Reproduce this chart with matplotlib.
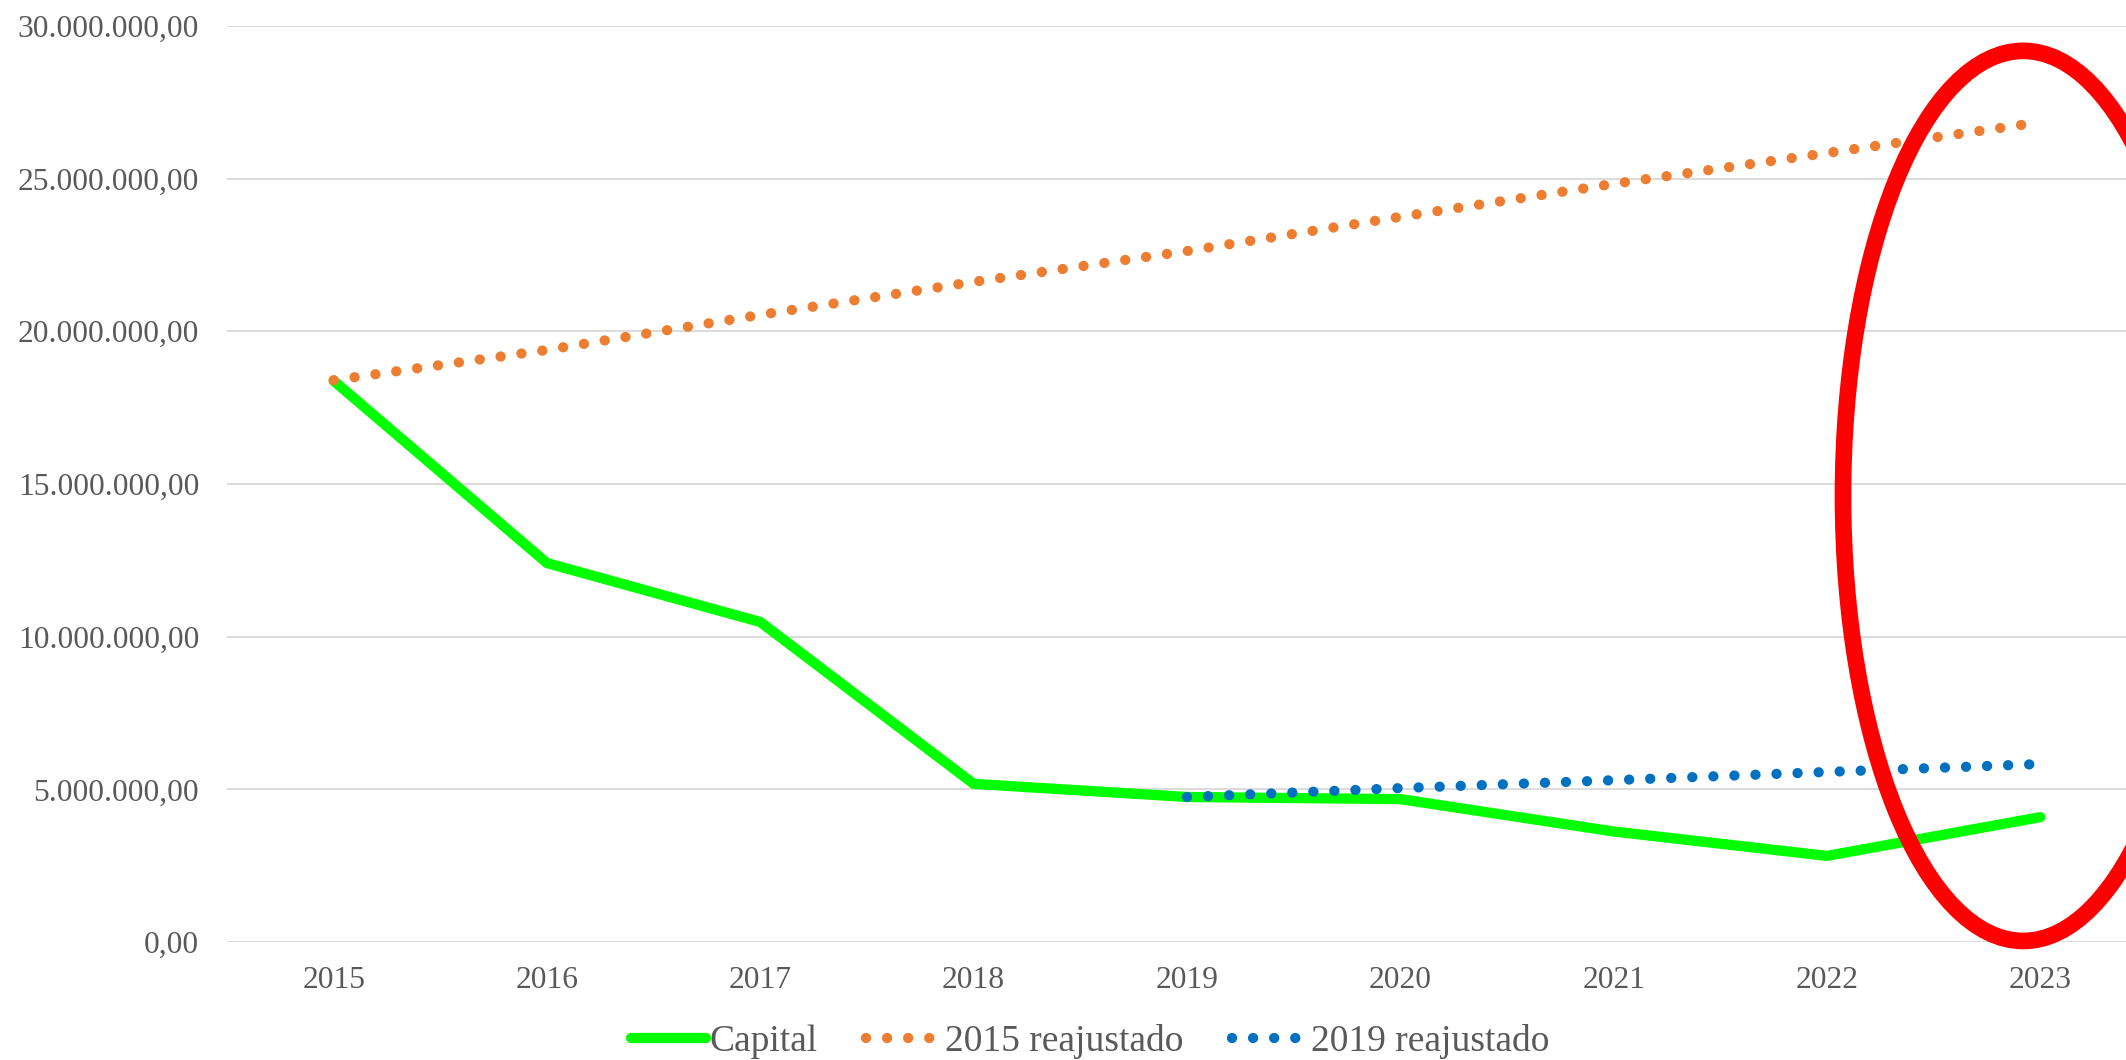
import matplotlib
matplotlib.use("Agg")
import matplotlib.pyplot as plt
from matplotlib.patches import Ellipse
from matplotlib.ticker import FuncFormatter, MultipleLocator

# values
years = ["2015", "2016", "2017", "2018", "2019", "2020", "2021", "2022", "2023"]
capital = [18.38e6, 12.41e6, 10.48e6, 5.18e6, 4.75e6, 4.68e6, 3.62e6, 2.82e6, 4.09e6]
reaj_2015 = [18.4e6, 19.39e6, 20.54e6, 21.62e6, 22.63e6, 23.75e6, 24.83e6, 25.84e6, 26.85e6]
years_2019 = ["2019", "2020", "2021", "2022", "2023"]
reaj_2019 = [4.75e6, 5.04e6, 5.30e6, 5.57e6, 5.83e6]

labels = ["Capital", "2015 reajustado", "2019 reajustado"]
colors = ["#00FF00", "#ED7D31", "#0070C0"]

plt.rcParams['font.family'] = ['Liberation Serif', 'DejaVu Serif']
grey = "#595959"

fig = plt.figure(figsize=(21.26, 10.6), dpi=100)
ax = fig.add_axes([0.10677, 0.1113, 0.9031, 0.8642])

x_all = list(range(len(years)))
x_2019 = [years.index(y) for y in years_2019]

lw = 7.4
dots = (0, (0.01, 2.04))  # round dots, ~21 px apart

ax.plot(x_all, capital, color=colors[0], lw=lw, label=labels[0],
        solid_capstyle='round', solid_joinstyle='round', zorder=3)
ax.plot(x_all, reaj_2015, color=colors[1], lw=lw, linestyle=dots,
        dash_capstyle='round', label=labels[1], zorder=3)
ax.plot(x_2019, reaj_2019, color=colors[2], lw=lw, linestyle=dots,
        dash_capstyle='round', label=labels[2], zorder=3)

# red highlight ellipse around 2023
ell = Ellipse((7.92, 14.61e6), width=1.69, height=29.15e6, fill=False,
              edgecolor="#FF0000", lw=12, zorder=5, clip_on=False)
ax.add_patch(ell)

ax.set_xlim(-0.5, 8.5)
ax.set_ylim(0, 30e6)
ax.set_xticks(x_all)
ax.set_xticklabels(years)
ax.yaxis.set_major_locator(MultipleLocator(5e6))


def br_format(v, pos):
    s = f"{v:,.2f}"
    return s.replace(",", "X").replace(".", ",").replace("X", ".")


ax.yaxis.set_major_formatter(FuncFormatter(br_format))

for s in ax.spines.values():
    s.set_visible(False)
ax.grid(axis='y', color="#D9D9D9", lw=1.3, zorder=0)
ax.set_axisbelow(True)
ax.tick_params(axis='both', length=0, labelsize=22.7, labelcolor=grey)
ax.tick_params(axis='y', pad=20)
ax.tick_params(axis='x', pad=17)

leg = fig.legend(loc='center', bbox_to_anchor=(0.5127, 0.0175), ncol=3,
                 frameon=False, fontsize=27, handlelength=2.0,
                 handletextpad=0.1, columnspacing=1.3)
for t in leg.get_texts():
    t.set_color(grey)

fig.savefig("out.png", dpi=100)
